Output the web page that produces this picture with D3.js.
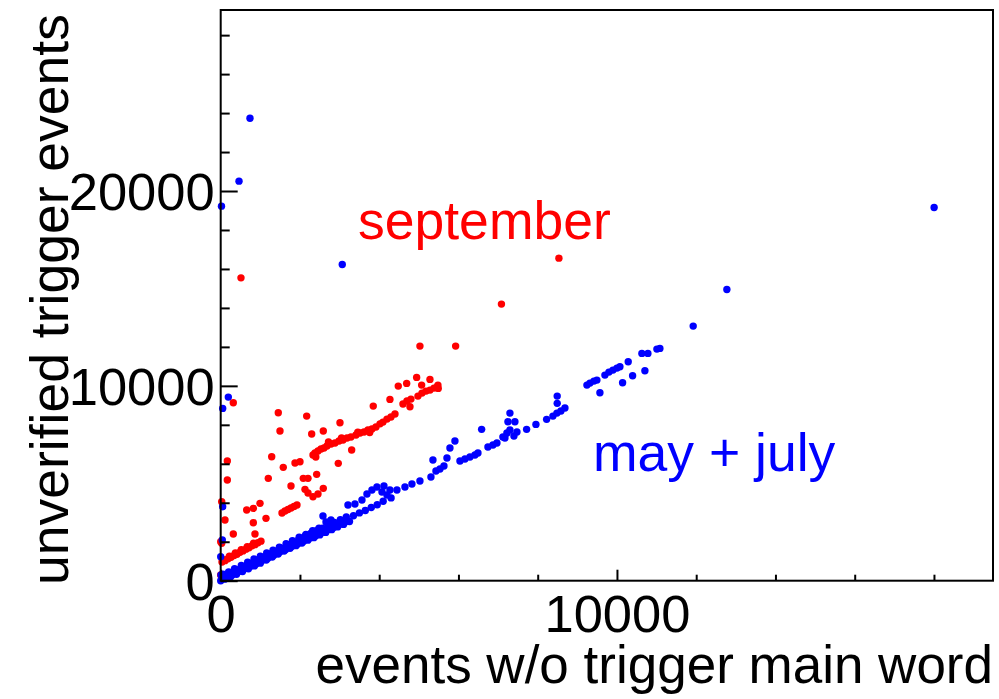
<!DOCTYPE html>
<html lang="en">
<head>
<meta charset="UTF-8" />
<title>unverified trigger events</title>
<script src="https://cdn.jsdelivr.net/npm/d3@7"></script>
<style>
  body { margin: 0; background: #fff; }
  svg text { font-family: "Liberation Sans", Arial, sans-serif; }
</style>
</head>
<body>
<div id="app"></div>
<script>
// september run (red)
const septemberPoints = [
  [512, 15544], [8535, 16555], [7085, 14195], [5028, 12040], [5929, 12040],
  [318, 9131], [1453, 8618], [2170, 8449], [3010, 8105], [4271, 9306], [3850, 8962],
  [4481, 9988], [4693, 10127], [4945, 10434], [5281, 10332],
  [1496, 7680], [2296, 7526], [2589, 7680], [3305, 6705], [2967, 6023],
  [167, 6141], [167, 5166], [1287, 6361], [1579, 5817], [1875, 6038], [2001, 6105],
  [1201, 5253], [1774, 4858], [2084, 5253], [2203, 5253], [2422, 5458],
  [2127, 4689], [2589, 4740], [2203, 4499], [2329, 4309], [2455, 4448],
  [992, 3971], [823, 3714], [656, 3627], [1143, 3201], [823, 2975],
  [318, 2396], [865, 2396], [108, 3114], [25, 4053], [0, 2001], [25, 1918], [0, 292],
  // middle segment
  [1547, 3473], [1622, 3576], [1698, 3653], [1774, 3730], [1849, 3806], [1925, 3883],
  // lower line
  [33, 960], [108, 1030], [184, 1130], [260, 1200], [336, 1290], [411, 1360],
  [487, 1460], [563, 1530], [638, 1620], [714, 1690], [790, 1790], [865, 1850],
  [941, 1950], [1017, 2030], [70, 1080], [220, 1260], [370, 1420], [520, 1590],
  [670, 1740], [830, 1920],
  // upper line
  [2329, 6448], [2379, 6551], [2455, 6654], [2531, 6756], [2606, 6808], [2682, 6910],
  [2783, 7013], [2884, 7064], [2985, 7167], [3086, 7218], [3187, 7321], [3287, 7372],
  [3414, 7474], [3515, 7577], [3616, 7628], [3716, 7731], [3817, 7782], [3918, 7885],
  [4095, 8141], [4196, 8295], [4297, 8398], [4398, 8552], [4600, 9065], [4700, 9219],
  [4801, 9321], [4776, 8926], [4978, 9475], [5079, 9629], [5180, 9732], [5281, 9783],
  [5382, 9886], [5457, 9937], [5482, 10039], [5071, 10039], [5490, 9870],
  [2400, 6350], [2720, 7120], [3050, 7330], [3460, 7620], [3760, 7600], [4020, 8050]
];

// may + july runs (blue)
const mayJulyPoints = [
  [739, 23736], [462, 20505], [20, 19222], [3068, 16231], [18004, 19155],
  [12774, 14949], [11924, 13066], [11084, 11922], [11008, 11886],
  [192, 9424], [50, 8844], [50, 3796], [40, 2088], [0, 1231], [8, 292],
  // dense band near the origin
  [100, 80], [250, 200], [400, 330], [550, 470], [700, 610], [850, 760], [1000, 900],
  [1150, 1060], [1300, 1210], [1450, 1370], [1600, 1520], [1750, 1660], [1900, 1800],
  [2050, 1930], [2200, 2080], [2350, 2210], [2500, 2350], [2650, 2480], [2800, 2620],
  [2950, 2760], [3100, 2890], [3250, 3040],
  [50, 120], [180, 260], [320, 420], [470, 580], [620, 740], [770, 900], [920, 1050],
  [1070, 1210], [1220, 1370], [1370, 1520], [1520, 1680], [1670, 1830], [1820, 1980],
  [1970, 2120], [2120, 2270], [2270, 2420], [2420, 2560], [2570, 2700], [2720, 2850],
  [2870, 2990], [3020, 3130], [3170, 3270],
  [0, 0], [140, 170], [290, 290], [440, 460], [590, 600], [740, 730], [890, 860],
  [1040, 1040], [1190, 1150], [1340, 1300], [1490, 1470], [1640, 1600], [1790, 1760],
  [1940, 1880], [2090, 2030], [2240, 2180], [2390, 2300], [2540, 2460], [2690, 2600],
  [2840, 2720], [2990, 2880], [3140, 3010],
  [60, 330], [200, 450], [350, 620], [520, 780], [680, 950], [840, 1110], [1000, 1260],
  [1160, 1420], [1320, 1560], [1480, 1720], [1650, 1900], [1810, 2050], [1980, 2230],
  [2150, 2380], [2320, 2560], [2480, 2700],
  [3350, 3330], [3500, 3480], [3650, 3600], [3800, 3760], [3950, 3900], [4100, 4080], [4300, 4250],
  // middle part
  [2581, 3319], [2657, 3011], [2783, 3114], [3212, 3883], [3388, 3935], [3565, 4140],
  [3691, 4448], [3817, 4653], [3943, 4807], [4070, 4550], [4196, 4396], [4271, 4653],
  [4120, 4858], [4448, 4653], [4650, 4807], [4826, 4961], [5028, 5115], [5306, 5320],
  [5432, 5628], [5533, 5730], [5634, 5884], [5356, 6192], [5710, 6294], [5785, 6808],
  [5911, 7167], [6038, 6141], [6164, 6243], [6290, 6346], [6416, 6448], [6492, 6551],
  [6585, 7767], [6744, 6859], [6870, 6961], [6971, 7064], [7122, 7372], [7223, 7577],
  [7299, 7731], [7400, 7423], [7476, 7628], [7173, 7321], [7249, 8157], [7425, 8157],
  [7299, 8603], [7720, 7767], [7955, 8023], [8225, 8280], [8384, 8449], [8485, 8603],
  [8586, 8706], [8687, 8860], [8492, 9475], [8492, 9101],
  // upper right
  [9242, 10039], [9318, 10142], [9418, 10245], [9494, 10296], [9570, 9644],
  [9696, 10552], [9797, 10706], [9898, 10809], [9999, 10912], [10074, 10978],
  [10284, 11235], [10142, 10157], [10395, 10517], [10705, 10773],
  [10629, 11666], [10781, 11666]
];

const xMajorTicks = [0, 10000];
const xMinorTicks = [2000, 4000, 6000, 8000, 12000, 14000, 16000, 18000];
const yMajorTicks = [0, 10000, 20000];
const yMinorTicks = [2000, 4000, 6000, 8000, 12000, 14000, 16000, 18000, 22000, 24000, 26000, 28000];

const labels = [
  { text: "september", color: "#ff0000", x: 358, y: 239 },
  { text: "may + july", color: "#0000ff", x: 593, y: 471 }
];

const w = 999, h = 699;
const frame = { left: 220.7, right: 993, top: 10, bottom: 580.7 };

const svg = d3.select("#app").append("svg")
  .attr("width", w)
  .attr("height", h);

const x = d3.scaleLinear().domain([0, 19490]).range([frame.left, frame.right]);
const y = d3.scaleLinear().domain([0, 29290]).range([frame.bottom, frame.top]);

// points
svg.append("g").selectAll("circle")
  .data(septemberPoints)
  .enter().append("circle")
  .attr("cx", d => x(d[0]))
  .attr("cy", d => y(d[1]))
  .attr("r", 3.7)
  .attr("fill", "#ff0000");

svg.append("g").selectAll("circle")
  .data(mayJulyPoints)
  .enter().append("circle")
  .attr("cx", d => x(d[0]))
  .attr("cy", d => y(d[1]))
  .attr("r", 3.7)
  .attr("fill", "#0000ff");

// axes: ticks pointing inward
const xMinor = d3.axisBottom(x).tickValues(xMinorTicks).tickSize(-6).tickSizeOuter(0).tickFormat("");
const xMajor = d3.axisBottom(x).tickValues(xMajorTicks).tickSize(-11).tickSizeOuter(0)
  .tickPadding(14).tickFormat(d3.format("d"));
const yMinor = d3.axisLeft(y).tickValues(yMinorTicks).tickSize(-9).tickSizeOuter(0).tickFormat("");
const yMajor = d3.axisLeft(y).tickValues(yMajorTicks).tickSize(-17).tickSizeOuter(0)
  .tickPadding(6).tickFormat(d3.format("d"));

[xMinor, xMajor].forEach(a => {
  svg.append("g").attr("class", "axis x-axis")
    .attr("transform", "translate(0," + frame.bottom + ")")
    .call(a);
});
[yMinor, yMajor].forEach(a => {
  svg.append("g").attr("class", "axis y-axis")
    .attr("transform", "translate(" + frame.left + ",0)")
    .call(a);
});

svg.selectAll(".axis .domain").remove();
svg.selectAll(".axis line").attr("stroke", "#000").attr("stroke-width", 2);
svg.selectAll(".axis text")
  .attr("fill", "#000")
  .style("font-size", "52.5px");
svg.selectAll(".y-axis text").attr("dy", "0.36em");

// frame
svg.append("rect")
  .attr("x", frame.left).attr("y", frame.top)
  .attr("width", frame.right - frame.left).attr("height", frame.bottom - frame.top)
  .attr("fill", "none").attr("stroke", "#000").attr("stroke-width", 2);

// axis titles
svg.append("text")
  .attr("x", frame.right).attr("y", 683)
  .attr("text-anchor", "end")
  .style("font-size", "53px")
  .text("events w/o trigger main word");

svg.append("text")
  .attr("transform", "translate(68," + (frame.top + 4) + ") rotate(-90)")
  .attr("text-anchor", "end")
  .style("font-size", "53.5px")
  .text("unverified trigger events");

// series labels
svg.selectAll("text.series")
  .data(labels)
  .enter().append("text")
  .attr("class", "series")
  .attr("x", d => d.x).attr("y", d => d.y)
  .attr("fill", d => d.color)
  .style("font-size", "53.5px")
  .text(d => d.text);
</script>
</body>
</html>
